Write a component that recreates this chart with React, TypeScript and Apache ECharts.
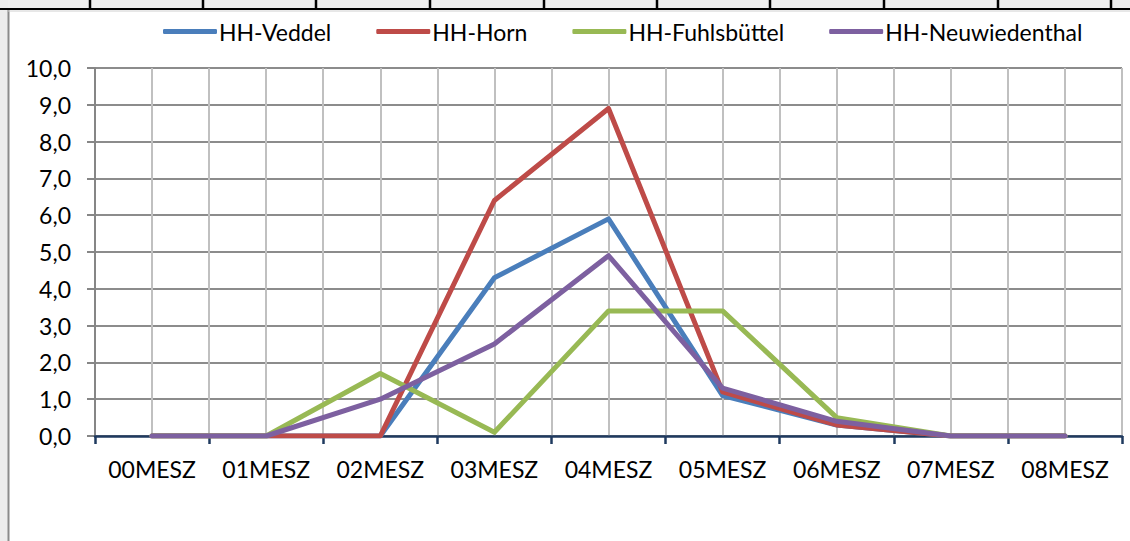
import React, { useEffect, useRef } from "react";
import * as echarts from "echarts";

const categories = ["00MESZ", "01MESZ", "02MESZ", "03MESZ", "04MESZ", "05MESZ", "06MESZ", "07MESZ", "08MESZ"];
const veddel = [0, 0, 0, 4.3, 5.9, 1.1, 0.3, 0, 0];
const horn = [0, 0, 0, 6.4, 8.9, 1.2, 0.3, 0, 0];
const fuhlsbuettel = [0, 0, 1.7, 0.1, 3.4, 3.4, 0.5, 0, 0];
const neuwiedenthal = [0, 0, 1.0, 2.5, 4.9, 1.3, 0.4, 0, 0];
const seriesNames = ["HH-Veddel", "HH-Horn", "HH-Fuhlsbüttel", "HH-Neuwiedenthal"];
const colors = ["#4A7EBB", "#BE4B48", "#98B954", "#7D60A0"];

const FONT = "Lato, 'Open Sans', sans-serif";

export default function App() {
  const ref = useRef<HTMLDivElement>(null);
  useEffect(() => {
    if (!ref.current) return;
    const chart = echarts.init(ref.current, undefined, { renderer: "svg" });
    const halfCats = categories.flatMap(() => ["", ""]);
    const sheetCols = [90, 203, 316, 430, 544, 657, 770, 884, 998, 1111];
    const dataSets = [veddel, horn, fuhlsbuettel, neuwiedenthal];
    chart.setOption({
      animation: false,
      backgroundColor: "#ffffff",
      textStyle: { fontFamily: FONT },
      graphic: [
        { type: "rect", shape: { x: 0, y: 0, width: 1130, height: 8 }, style: { fill: "#eeeeee" }, z: 100 },
        { type: "rect", shape: { x: 0, y: 0, width: 8, height: 541 }, style: { fill: "#ececec" }, z: 100 },
        { type: "line", shape: { x1: 8.5, y1: 10, x2: 8.5, y2: 541 }, style: { stroke: "#8a8a8a", lineWidth: 2 }, z: 100 },
        { type: "line", shape: { x1: 8, y1: 11, x2: 1130, y2: 11 }, style: { stroke: "#d0d0d0", lineWidth: 1 }, z: 100 },
        { type: "line", shape: { x1: 0, y1: 9, x2: 1130, y2: 9 }, style: { stroke: "#000000", lineWidth: 2 }, z: 101 },
        ...sheetCols.map((x) => ({
          type: "line",
          shape: { x1: x, y1: 0, x2: x, y2: 9 },
          style: { stroke: "#000000", lineWidth: 2.5 },
          z: 101,
        })),
      ],
      legend: {
        left: 158,
        top: 15,
        itemWidth: 54,
        itemHeight: 5,
        itemGap: 45,
        icon: "roundRect",
        textStyle: { fontFamily: FONT, fontSize: 23, color: "#000000", padding: [0, 0, 0, -3] },
        data: seriesNames,
      },
      grid: { left: 95, right: 8, top: 68, bottom: 105, containLabel: false },
      xAxis: [
        {
          type: "category",
          data: categories,
          boundaryGap: true,
          axisLine: { lineStyle: { color: "#1F3A5F", width: 2.5 } },
          axisTick: { show: true, length: 8, lineStyle: { color: "#1F3A5F", width: 2.5 } },
          axisLabel: { fontFamily: FONT, fontSize: 23, color: "#000000", margin: 21, interval: 0 },
          splitLine: { show: false },
          z: 5,
        },
        {
          type: "category",
          data: halfCats,
          boundaryGap: true,
          position: "bottom",
          axisLine: { show: false },
          axisTick: { show: false },
          axisLabel: { show: false },
          splitLine: { show: true, interval: 0, lineStyle: { color: "#c0c0c0", width: 2 } },
        },
      ],
      yAxis: {
        type: "value",
        min: 0,
        max: 10,
        interval: 1,
        axisLine: { show: true, lineStyle: { color: "#868686", width: 2 } },
        axisTick: { show: true, length: 8, lineStyle: { color: "#868686", width: 2 } },
        axisLabel: {
          fontFamily: FONT,
          fontSize: 23,
          color: "#000000",
          margin: 24,
          formatter: (v: number) => v.toFixed(1).replace(".", ","),
        },
        splitLine: { show: true, lineStyle: { color: "#8c8c8c", width: 2 } },
      },
      series: seriesNames.map((name, i) => ({
        name,
        type: "line",
        xAxisIndex: 0,
        data: dataSets[i],
        showSymbol: false,
        symbol: "none",
        itemStyle: { color: colors[i] },
        lineStyle: { color: colors[i], width: 5, cap: "round", join: "round" },
        z: 10 + i,
      })),
    });
    return () => chart.dispose();
  }, []);
  return <div ref={ref} style={{ position: "absolute", left: 0, top: 0, width: 1130, height: 541 }} />;
}
